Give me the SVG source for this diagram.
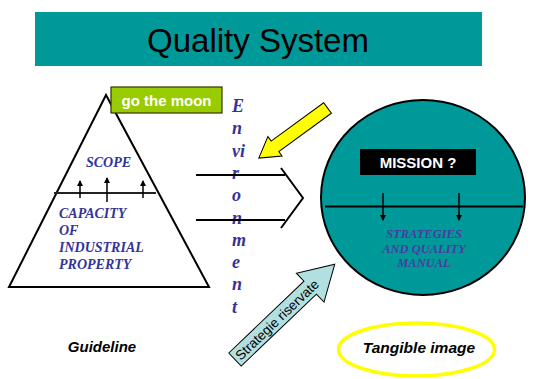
<svg xmlns="http://www.w3.org/2000/svg" width="544" height="379" viewBox="0 0 544 379">
<style>
.serif{font-family:"Liberation Serif","Times New Roman",serif;font-style:italic;font-weight:bold;fill:#333399}
.sans{font-family:"Liberation Sans",Arial,sans-serif}
.ln{stroke:#000;stroke-width:2;fill:none}
.blk{stroke:#000;stroke-width:1.5;fill:none}
</style>
<defs>
<marker id="ah" markerWidth="6" markerHeight="6" refX="5" refY="3" orient="auto" markerUnits="userSpaceOnUse">
<path d="M0,0 L6,3 L0,6 Z" fill="#000"/>
</marker>
</defs>
<rect width="544" height="379" fill="#fff"/>

<g id="title">
<rect x="35" y="12" width="447" height="54" fill="#009999"/>
<text x="258" y="52" class="sans" font-size="33" text-anchor="middle" fill="#000">Quality System</text>
</g>

<g id="triangle">
<path d="M106,95 L9,287 L209,287 Z" class="ln" stroke-linejoin="miter"/>
<line x1="54" y1="193" x2="156" y2="193" stroke="#222" stroke-width="2"/>
<text x="86" y="167" class="serif" font-size="14">SCOPE</text>
<text class="serif" font-size="14"><tspan x="59" y="218">CAPACITY</tspan><tspan x="59" y="235">OF</tspan><tspan x="59" y="252">INDUSTRIAL</tspan><tspan x="59" y="269">PROPERTY</tspan></text>
</g>

<g id="gomoon">
<rect x="111" y="87" width="111" height="26" fill="#99CC00" stroke="#333300" stroke-width="1.2"/>
<text x="166.5" y="106" class="sans" font-size="15" font-weight="bold" fill="#fff" text-anchor="middle">go the moon</text>
</g>

<g id="environment">
<text class="serif" font-size="18"><tspan x="232" y="112">E</tspan><tspan x="232" y="134.3">n</tspan><tspan x="232" y="156.6">vi</tspan><tspan x="232" y="178.9">r</tspan><tspan x="232" y="201.2">o</tspan><tspan x="232" y="223.5">n</tspan><tspan x="232" y="245.8">m</tspan><tspan x="232" y="268.1">e</tspan><tspan x="232" y="290.4">n</tspan><tspan x="232" y="312.7">t</tspan></text>
</g>

<g id="mission-circle">
<ellipse cx="423" cy="197.5" rx="102" ry="97.5" fill="#009999" stroke="#000" stroke-width="2"/>
<line x1="325" y1="206.5" x2="523" y2="206.5" stroke="#000" stroke-width="2"/>
<rect x="360" y="149" width="116" height="26" fill="#000"/>
<text x="418" y="168" class="sans" font-size="15" font-weight="bold" fill="#fff" text-anchor="middle">MISSION ?</text>
<text class="serif" font-size="12.5" text-anchor="middle" style="fill:#4B3BA0"><tspan x="424" y="238">STRATEGIES</tspan><tspan x="424" y="252.5">AND QUALITY</tspan><tspan x="424" y="267">MANUAL</tspan></text>
</g>

<g id="connectors">
<line x1="80" y1="198" x2="80" y2="181" class="blk" marker-end="url(#ah)"/>
<line x1="107" y1="202" x2="107" y2="178" class="blk" marker-end="url(#ah)"/>
<line x1="143" y1="198" x2="143" y2="181" class="blk" marker-end="url(#ah)"/>
<line x1="383" y1="193" x2="383" y2="220" class="blk" marker-end="url(#ah)"/>
<line x1="459" y1="193" x2="459" y2="220" class="blk" marker-end="url(#ah)"/>
<line x1="196" y1="175" x2="285" y2="175" class="ln"/>
<line x1="196" y1="220" x2="285" y2="220" class="ln"/>
<polyline points="281,168 303,198 281,228" class="ln"/>
<polygon points="0,-6.5 65,-6.5 65,-12 85,0 65,12 65,6.5 0,6.5" transform="translate(327.5,108) rotate(143.9)" fill="#FFFF00" stroke="#000" stroke-width="1"/>
<g transform="translate(235,359.5) rotate(-43.7)">
<polygon points="0,-9 104,-9 104,-20 138,0 104,20 104,9 0,9" fill="#B2DFDF" stroke="#000" stroke-width="1"/>
<text x="58" y="5" class="sans" font-size="13.5" fill="#000" text-anchor="middle">Strategie riservate</text>
</g>
</g>

<g id="guideline">
<text x="102" y="352" class="sans" font-size="15" font-style="italic" font-weight="bold" fill="#000" text-anchor="middle">Guideline</text>
</g>

<g id="tangible">
<ellipse cx="416.5" cy="349.5" rx="78" ry="26.5" fill="none" stroke="#FFFF00" stroke-width="3.5"/>
<text x="419" y="353" class="sans" font-size="15.5" font-style="italic" font-weight="bold" fill="#000" text-anchor="middle">Tangible image</text>
</g>
</svg>
